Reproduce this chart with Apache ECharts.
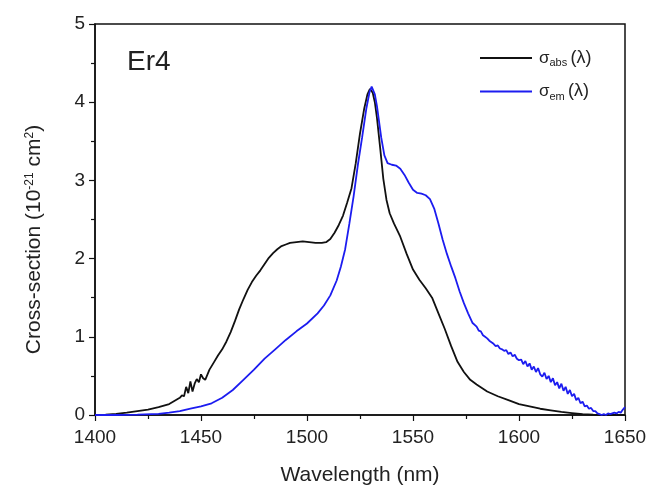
<!DOCTYPE html>
<html>
<head>
<meta charset="utf-8">
<script src="https://cdn.jsdelivr.net/npm/echarts@6/dist/echarts.min.js"></script>
<style>
  html, body { margin: 0; padding: 0; background: #fff; }
  #chart { width: 649px; height: 486px; }
</style>
</head>
<body>
<div id="chart"></div>
<script>
// Absorption cross-section, wavelength (nm) and value (1e-21 cm^2)
const absWl = [1400,1405,1410,1415,1420,1425,1430,1435,1440,1441,1442,1443,1444,1445,1446,1447,1448,1449,1450,1451,1452,1454,1456,1458,1460,1462,1464,1466,1468,1470,1472,1474,1476,1478,1480,1482,1484,1486,1488,1490,1492,1495,1498,1501,1504,1507,1509,1511,1513,1515,1517,1519,1521,1523,1525,1527,1528.5,1529.7,1531,1532,1533,1534.5,1536,1537.5,1539,1541,1544,1547,1550,1553,1556,1559,1562,1565,1568,1571,1574,1577,1580,1585,1590,1595,1600,1605,1610,1615,1620,1625,1630,1635,1640,1650];
const absVal = [0.00,0.005,0.015,0.03,0.05,0.07,0.10,0.14,0.22,0.25,0.24,0.36,0.28,0.43,0.30,0.40,0.46,0.42,0.52,0.47,0.45,0.58,0.67,0.76,0.84,0.94,1.06,1.20,1.35,1.48,1.60,1.70,1.78,1.85,1.93,2.01,2.07,2.12,2.16,2.18,2.20,2.21,2.22,2.21,2.20,2.20,2.21,2.25,2.33,2.43,2.55,2.72,2.90,3.22,3.60,3.92,4.10,4.17,4.12,4.00,3.80,3.42,3.02,2.75,2.58,2.45,2.28,2.06,1.86,1.73,1.62,1.50,1.30,1.10,0.88,0.68,0.55,0.45,0.39,0.30,0.24,0.19,0.14,0.11,0.08,0.06,0.04,0.025,0.01,0.003,0.0,0.0];

// Emission cross-section
const emWl = [1400,1410,1420,1430,1435,1440,1445,1450,1455,1460,1465,1470,1475,1480,1485,1490,1495,1500,1505,1508,1511,1514,1516,1518,1520,1522,1524,1526,1528,1529.5,1530.5,1532,1533,1535,1536.5,1538,1540,1542,1544,1546,1548,1550,1552,1554,1556,1558,1560,1562,1564,1566,1568,1570,1572,1574,1576,1578,1580,1581,1582,1583,1584,1585,1586,1587,1588,1589,1590,1591,1592,1593,1594,1595,1596,1597,1598,1599,1600,1601,1602,1603,1604,1605,1606,1607,1608,1609,1610,1611,1612,1613,1614,1615,1616,1617,1618,1619,1620,1621,1622,1623,1624,1625,1626,1627,1628,1629,1630,1631,1632,1633,1634,1635,1636,1637,1638,1639,1640,1641,1642,1643,1644,1645,1646,1647,1648,1649,1650];
const emVal = [0.0,0.0,0.005,0.015,0.03,0.05,0.08,0.11,0.15,0.22,0.32,0.45,0.58,0.72,0.84,0.96,1.07,1.17,1.30,1.40,1.53,1.72,1.90,2.12,2.45,2.80,3.20,3.55,3.92,4.13,4.20,4.10,3.95,3.55,3.32,3.22,3.20,3.19,3.15,3.07,2.97,2.88,2.84,2.83,2.81,2.76,2.64,2.45,2.24,2.06,1.90,1.75,1.58,1.43,1.30,1.18,1.13,1.08,1.07,1.02,1.00,0.98,0.95,0.93,0.91,0.88,0.89,0.85,0.84,0.82,0.83,0.78,0.80,0.75,0.77,0.72,0.70,0.71,0.65,0.69,0.62,0.66,0.58,0.62,0.55,0.60,0.52,0.49,0.54,0.46,0.50,0.42,0.47,0.38,0.42,0.34,0.40,0.31,0.36,0.27,0.32,0.24,0.27,0.19,0.22,0.15,0.17,0.11,0.12,0.08,0.09,0.05,0.05,0.02,0.01,0.0,0.01,0.0,0.02,0.01,0.02,0.03,0.02,0.04,0.03,0.07,0.10];

const xTicks = [1400, 1450, 1500, 1550, 1600, 1650];
const yTicks = [0, 1, 2, 3, 4, 5];

const pairs = (xs, ys) => xs.map((x, i) => [x, ys[i]]);

const FONT = '"Liberation Sans", Arial, sans-serif';
const INK = '#222';

const chart = echarts.init(document.getElementById('chart'), null, { renderer: 'canvas' });

const axisCommon = {
  axisLine: { show: true, lineStyle: { color: '#111', width: 1.5 } },
  axisTick: { show: true, inside: false, length: 6, lineStyle: { color: '#111', width: 1.2 } },
  minorTick: { show: true, splitNumber: 2, length: 4, lineStyle: { color: '#111', width: 1.2 } },
  splitLine: { show: false },
  axisLabel: { color: INK, fontFamily: FONT, fontSize: 19, formatter: v => String(v) }
};

chart.setOption({
  animation: false,
  backgroundColor: '#fff',
  grid: {
    left: 95, right: 24, top: 24, bottom: 71,
    containLabel: false, outerBoundsMode: 'none',
    show: true, borderColor: '#111', borderWidth: 1.5
  },
  xAxis: Object.assign({}, axisCommon, {
    type: 'value',
    min: xTicks[0], max: xTicks[xTicks.length - 1], interval: 50,
    name: 'Wavelength (nm)',
    nameLocation: 'middle', nameGap: 50,
    nameTextStyle: { color: INK, fontFamily: FONT, fontSize: 21 },
    axisLabel: Object.assign({}, axisCommon.axisLabel, { margin: 13 })
  }),
  yAxis: Object.assign({}, axisCommon, {
    type: 'value',
    min: yTicks[0], max: yTicks[yTicks.length - 1], interval: 1,
    name: 'Cross-section (10{sup|-21} cm{sup|2})',
    nameLocation: 'middle', nameGap: 50,
    nameTextStyle: {
      color: INK, fontFamily: FONT, fontSize: 21, padding: [0, 40, 0, 0],
      rich: {
        sup: { fontFamily: FONT, fontSize: 12, color: INK, verticalAlign: 'top', lineHeight: 12, padding: [0, 0, 10, 0] }
      }
    },
    axisLabel: Object.assign({}, axisCommon.axisLabel, { margin: 10 })
  }),
  legend: {
    orient: 'vertical',
    left: 475, top: 44,
    itemWidth: 52, itemHeight: 2, itemGap: 14,
    icon: 'rect',
    data: ['abs', 'em'],
    formatter: n => '{s|σ}{b|' + n + '} {p|(λ)}',
    textStyle: {
      color: INK, fontFamily: FONT, padding: [0, 0, 0, 2],
      rich: {
        s: { fontFamily: FONT, fontSize: 17, color: INK, height: 20 },
        b: { fontFamily: FONT, fontSize: 11, color: INK, verticalAlign: 'bottom', padding: [10, 0, 0, 0] },
        p: { fontFamily: FONT, fontSize: 18, color: INK }
      }
    }
  },
  graphic: [{
    type: 'text', left: 127, top: 48,
    style: { text: 'Er4', font: '28px ' + FONT, fill: INK }
  }],
  series: [
    {
      name: 'abs', type: 'line', data: pairs(absWl, absVal),
      showSymbol: false, smooth: false,
      lineStyle: { color: '#111', width: 1.8 }, itemStyle: { color: '#111' }
    },
    {
      name: 'em', type: 'line', data: pairs(emWl, emVal),
      showSymbol: false, smooth: false,
      lineStyle: { color: '#1c1cf0', width: 1.8 }, itemStyle: { color: '#1c1cf0' }
    }
  ]
});
</script>
</body>
</html>
